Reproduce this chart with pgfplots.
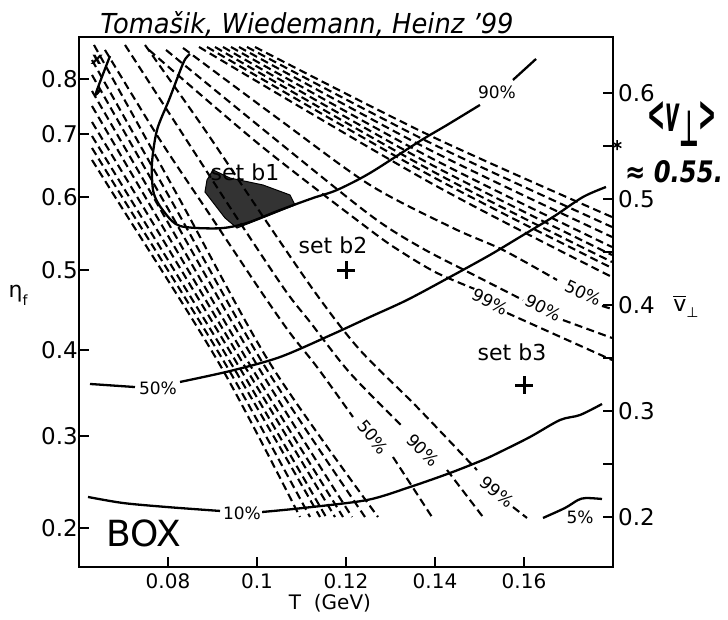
\documentclass[border=0pt]{standalone}
\usepackage{fontspec}
\setmainfont{DejaVu Sans}
\usepackage{pgfplots}
\pgfplotsset{compat=1.18}
\tikzset{
  sld/.style={black, line width=2.3pt, smooth},
  dsh/.style={black, line width=2.1pt, smooth, dash pattern=on 8pt off 4.5pt},
  pct/.style={font=\fontsize{17}{17}\selectfont, inner sep=1pt},
}
\begin{document}
\begin{tikzpicture}
\path[use as bounding box] (-79pt,-53pt) rectangle (649pt,567pt);
\begin{axis}[
  at={(0pt,0pt)}, anchor=south west,
  scale only axis, width=534pt, height=530pt,
  xmin=0.06, xmax=0.18, ymin=0.15283, ymax=0.65283,
  axis line style={line width=1.8pt},
  tick style={line width=1.8pt, black},
  major tick length=10pt, minor tick length=10pt,
  tick align=inside,
  xtick={0.08,0.10,0.12,0.14,0.16},
  xticklabels={0.08,0.1,0.12,0.14,0.16},
  xtick pos=bottom,
  ytick={0.1896,0.2764,0.3575,0.4330,0.5019,0.5613,0.6132},
  yticklabels={0.2,0.3,0.4,0.5,0.6,0.7,0.8},
  ytick pos=left,
  x tick label style={font=\fontsize{20}{20}\selectfont, inner sep=1pt, yshift=-5pt},
  y tick label style={font=\fontsize{23}{23}\selectfont, inner sep=1pt},
  clip=false,
]
% ---- solid contours ----
\addplot[sld] coordinates {(0.08494,0.6368) (0.08404,0.6330) (0.08315,0.6255) (0.08022,0.5934) (0.07753,0.5651) (0.07640,0.5340) (0.07663,0.5085) (0.07775,0.4962) (0.07933,0.4868) (0.08090,0.4792) (0.08270,0.4745) (0.08652,0.4726) (0.09236,0.4726) (0.09775,0.4774) (0.10517,0.4896) (0.11258,0.5009) (0.11798,0.5085) (0.12539,0.5245) (0.13663,0.5547) (0.14270,0.5698) (0.15010,0.5887)};
\addplot[sld] coordinates {(0.15752,0.6123) (0.16270,0.6321)};
\addplot[sld] coordinates {(0.06697,0.6349) (0.06382,0.6000) (0.06472,0.6028)};
\addplot[sld] coordinates {(0.06247,0.3255) (0.07258,0.3226)};
\addplot[sld] coordinates {(0.08270,0.3274) (0.09393,0.3377) (0.10517,0.3509) (0.11708,0.3726) (0.12539,0.3887) (0.13371,0.4047) (0.14337,0.4264) (0.15235,0.4472) (0.15910,0.4642) (0.16652,0.4830) (0.17326,0.5019) (0.17842,0.5113)};
\addplot[sld] coordinates {(0.06202,0.2189) (0.06989,0.2132) (0.07978,0.2094) (0.09169,0.2057)};
\addplot[sld] coordinates {(0.10112,0.2047) (0.11034,0.2085) (0.12472,0.2160) (0.13438,0.2283) (0.14337,0.2415) (0.15078,0.2538) (0.15460,0.2613) (0.16135,0.2755) (0.16809,0.2915) (0.17258,0.2962) (0.17753,0.3066)};
\addplot[sld] coordinates {(0.16427,0.1991) (0.16921,0.2085) (0.17213,0.2160) (0.17393,0.2179) (0.17753,0.2170)};
% ---- steep dashed family ----
\addplot[dsh] coordinates {(0.06292,0.5368) (0.06854,0.4991) (0.09169,0.3434) (0.10966,0.2000)};
\addplot[dsh] coordinates {(0.06292,0.5481) (0.07011,0.4991) (0.09303,0.3434) (0.11191,0.2000)};
\addplot[dsh] coordinates {(0.06292,0.5594) (0.07169,0.4991) (0.09438,0.3434) (0.11416,0.2000)};
\addplot[dsh] coordinates {(0.06292,0.5726) (0.07348,0.4991) (0.09573,0.3434) (0.11551,0.2000)};
\addplot[dsh] coordinates {(0.06292,0.5877) (0.07528,0.4991) (0.09708,0.3434) (0.11753,0.2000)};
\addplot[dsh] coordinates {(0.06292,0.6019) (0.07708,0.4991) (0.09843,0.3434) (0.11933,0.2000)};
\addplot[dsh] coordinates {(0.06292,0.6170) (0.07888,0.4991) (0.10000,0.3434) (0.12135,0.2000)};
\addplot[dsh] coordinates {(0.06292,0.6311) (0.08067,0.4991) (0.10157,0.3434) (0.12427,0.2000)};
\addplot[dsh] coordinates {(0.06337,0.6453) (0.08270,0.4991) (0.10315,0.3434) (0.12719,0.2000)};
\addplot[dsh] coordinates {(0.06584,0.6406) (0.07820,0.5557) (0.08944,0.4849) (0.10067,0.4142) (0.10741,0.3736) (0.11348,0.3415) (0.12157,0.2943)};
\addplot[dsh] coordinates {(0.13056,0.2566) (0.13932,0.2000)};
\addplot[dsh] coordinates {(0.07034,0.6453) (0.08270,0.5651) (0.09506,0.4849) (0.10629,0.4142) (0.11191,0.3840) (0.12090,0.3358) (0.13281,0.2849)};
\addplot[dsh] coordinates {(0.14270,0.2443) (0.15078,0.2000)};
\addplot[dsh] coordinates {(0.07483,0.6453) (0.08831,0.5651) (0.10112,0.4849) (0.11348,0.4094) (0.12314,0.3575) (0.13595,0.3038) (0.14943,0.2443)};
\addplot[dsh] coordinates {(0.15752,0.2094) (0.16067,0.1991)};
% ---- shallow dashed family ----
\addplot[dsh] coordinates {(0.09955,0.6434) (0.13888,0.5598) (0.17977,0.4830)};
\addplot[dsh] coordinates {(0.09775,0.6434) (0.13888,0.5531) (0.17977,0.4736)};
\addplot[dsh] coordinates {(0.09596,0.6434) (0.13888,0.5462) (0.17977,0.4642)};
\addplot[dsh] coordinates {(0.09416,0.6434) (0.13888,0.5392) (0.17977,0.4547)};
\addplot[dsh] coordinates {(0.09236,0.6434) (0.13888,0.5330) (0.17977,0.4472)};
\addplot[dsh] coordinates {(0.09056,0.6434) (0.13888,0.5274) (0.17977,0.4406)};
\addplot[dsh] coordinates {(0.08876,0.6434) (0.13888,0.5223) (0.17977,0.4349)};
\addplot[dsh] coordinates {(0.08697,0.6434) (0.13888,0.5155) (0.17977,0.4264)};
\addplot[dsh] coordinates {(0.08337,0.6425) (0.10517,0.5745) (0.12539,0.5132) (0.14404,0.4726) (0.15528,0.4519) (0.16741,0.4236)};
\addplot[dsh] coordinates {(0.17753,0.3991) (0.17977,0.3962)};
\addplot[dsh] coordinates {(0.07955,0.6406) (0.10292,0.5604) (0.12539,0.4849) (0.13663,0.4547) (0.14786,0.4302) (0.15977,0.4047)};
\addplot[dsh] coordinates {(0.16876,0.3858) (0.17977,0.3689)};
\addplot[dsh] coordinates {(0.07573,0.6406) (0.10067,0.5509) (0.12539,0.4708) (0.13281,0.4491) (0.14045,0.4302) (0.14943,0.4142)};
\addplot[dsh] coordinates {(0.15618,0.3925) (0.17977,0.3481)};
% ---- blob at set b1 ----
\addplot[fill=black, fill opacity=0.8, draw=black, line width=1pt] coordinates {(0.08876,0.5179) (0.09011,0.5274) (0.09393,0.5198) (0.10135,0.5132) (0.10741,0.5038) (0.10854,0.4943) (0.10180,0.4830) (0.09551,0.4726) (0.09281,0.4821) (0.08831,0.5066)} --cycle;
% ---- set points ----
\addplot[only marks, mark=+, mark size=9pt, mark options={line width=3pt}] coordinates {(0.12,0.4330) (0.16,0.3245)};
\addplot[only marks, mark=asterisk, mark size=5pt, mark options={line width=1.5pt}] coordinates {(0.1809,0.5509)};
% ---- labels ----
\node[pct, fill=white] at (axis cs:0.15393,0.6009) {90\%};
\node[pct, fill=white] at (axis cs:0.07775,0.3217) {50\%};
\node[pct, fill=white] at (axis cs:0.09663,0.2038) {10\%};
\node[pct] at (axis cs:0.17258,0.2000) {5\%};
\node[pct, rotate=-50, fill=white] at (axis cs:0.12606,0.2755) {50\%};
\node[pct, rotate=-45, fill=white] at (axis cs:0.13730,0.2632) {90\%};
\node[pct, rotate=-40, fill=white] at (axis cs:0.15393,0.2236) {99\%};
\node[pct, rotate=-28, fill=white] at (axis cs:0.15235,0.4028) {99\%};
\node[pct, rotate=-28, fill=white] at (axis cs:0.16427,0.3972) {90\%};
\node[pct, rotate=-25, fill=white] at (axis cs:0.17326,0.4113) {50\%};
\node[font=\fontsize{17}{17}\selectfont\bfseries\itshape] at (axis cs:0.06404,0.6311) {x};
\node[font=\fontsize{22}{22}\selectfont] at (axis cs:0.09730,0.5255) {set b1};
\node[font=\fontsize{22}{22}\selectfont] at (axis cs:0.11708,0.4566) {set b2};
\node[font=\fontsize{22}{22}\selectfont] at (axis cs:0.15730,0.3557) {set b3};
\node[font=\fontsize{36}{36}\selectfont] at (axis cs:0.07461,0.1849) {BOX};
\end{axis}
\begin{axis}[
  at={(0pt,0pt)}, anchor=south west,
  scale only axis, width=534pt, height=530pt,
  xmin=0.06, xmax=0.18, ymin=0.15283, ymax=0.65283,
  axis x line=none, axis y line*=right,
  axis line style={line width=1.8pt, -},
  tick style={line width=1.8pt, black},
  major tick length=10pt, minor tick length=10pt,
  tick align=inside,
  ytick={0.2,0.3,0.4,0.5,0.6},
  yticklabels={0.2,0.3,0.4,0.5,0.6},
  minor ytick={0.25,0.35,0.45,0.55},
  y tick label style={font=\fontsize{23}{23}\selectfont, inner sep=1pt, xshift=4pt},
]
\end{axis}
\node[font=\fontsize{22}{22}\selectfont] at (-61pt,272pt) {η\raisebox{-0.35em}{\fontsize{14}{14}\selectfont f}};
\node[font=\fontsize{22}{22}\selectfont] at (607pt,260pt) {\makebox[0pt][l]{\raisebox{0.62em}{\rule{0.55em}{1.2pt}}}v\raisebox{-0.3em}{\fontsize{14}{14}\selectfont ⊥}};
\node[font=\fontsize{20}{20}\selectfont] at (251pt,-36pt) {T\ \ (GeV)};
\node at (228pt,543pt) {\resizebox{413pt}{22pt}{\itshape Tomašik, Wiedemann, Heinz ’99}};
\node at (603pt,443pt) {\resizebox{70pt}{30pt}{\bfseries\itshape <v\raisebox{-0.3em}{⊥}>}};
\node at (595pt,395pt) {\resizebox{98pt}{22pt}{\bfseries\itshape ≈ 0.55.}};
\end{tikzpicture}
\end{document}
